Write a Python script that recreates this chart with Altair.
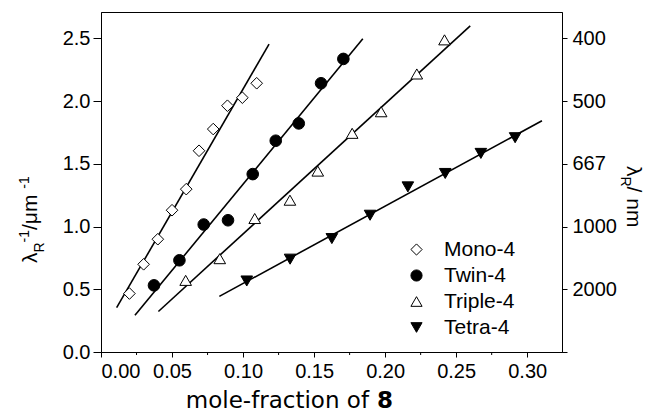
import altair as alt
import pandas as pd

# ---------------- data ----------------
series = ["Mono-4", "Twin-4", "Triple-4", "Tetra-4"]

mono_x = [0.020, 0.030, 0.040, 0.050, 0.060, 0.069, 0.079, 0.089, 0.0995, 0.1096]
mono_y = [0.466, 0.699, 0.899, 1.130, 1.298, 1.604, 1.777, 1.963, 2.027, 2.142]

twin_x = [0.0373, 0.0552, 0.0723, 0.0894, 0.1068, 0.1230, 0.1392, 0.1549, 0.1706]
twin_y = [0.531, 0.731, 1.016, 1.050, 1.418, 1.684, 1.822, 2.142, 2.336]

triple_x = [0.0596, 0.0836, 0.1082, 0.1330, 0.1526, 0.1768, 0.1972, 0.2223, 0.2418]
triple_y = [0.571, 0.744, 1.064, 1.210, 1.442, 1.743, 1.915, 2.216, 2.488]

tetra_x = [0.1026, 0.1331, 0.1625, 0.1894, 0.2160, 0.2423, 0.2674, 0.2915]
tetra_y = [0.566, 0.740, 0.904, 1.090, 1.316, 1.423, 1.583, 1.708]

# fitted lines (end points)
line_x0 = [0.0110, 0.0239, 0.0404, 0.0833]
line_y0 = [0.353, 0.292, 0.323, 0.443]
line_x1 = [0.1183, 0.1843, 0.2599, 0.3104]
line_y1 = [2.454, 2.496, 2.600, 1.843]

x_ticks = [0.00, 0.05, 0.10, 0.15, 0.20, 0.25, 0.30]
x_minor = [0.025, 0.075, 0.125, 0.175, 0.225, 0.275]
y_ticks = [0.0, 0.5, 1.0, 1.5, 2.0, 2.5]
right_ticks = [0.0, 0.5, 1.0, 1.5, 2.0, 2.5]
right_labels = ["", "2000", "1000", "667", "500", "400"]

shapes = ["diamond", "circle", "triangle-up", "triangle-down"]
fills = ["white", "black", "white", "black"]
strokes = ["black", "black", "black", "black"]

# ---------------- tables ----------------
xs = [mono_x, twin_x, triple_x, tetra_x]
ys = [mono_y, twin_y, triple_y, tetra_y]
pts = pd.DataFrame({
    "series": [s for s, xx in zip(series, xs) for _ in xx],
    "x": [v for xx in xs for v in xx],
    "y": [v for yy in ys for v in yy],
})
lines = pd.DataFrame({"series": series, "x0": line_x0, "y0": line_y0,
                      "x1": line_x1, "y1": line_y1})
minor = pd.DataFrame({"x": x_minor})
right_df = pd.DataFrame({"y": right_ticks})

W, H = 461, 340
xscale = alt.Scale(domain=[0, 0.3245], nice=False, zero=False)
yscale = alt.Scale(domain=[0, 2.71], nice=False, zero=False)

xaxis = alt.Axis(values=x_ticks, format=".2f", title=None, tickSize=5,
                 labelPadding=4, grid=False)
yaxis = alt.Axis(values=y_ticks, format=".1f", title=None, tickSize=8,
                 labelPadding=3, grid=False)

label_expr = ""
for v, lab in zip(right_ticks, right_labels):
    label_expr += f"datum.value == {v} ? '{lab}' : "
label_expr += "''"

legend = alt.Legend(orient="none", legendX=305, legendY=227, title=None,
                    symbolSize=125, labelFontSize=21, labelFont="Liberation Sans",
                    labelColor="black", labelOffset=17, rowPadding=4,
                    symbolStrokeColor="black", symbolStrokeWidth=1)

rules = alt.Chart(lines).mark_rule(color="black", strokeWidth=1.6).encode(
    x=alt.X("x0:Q", scale=xscale, axis=xaxis),
    x2="x1:Q",
    y=alt.Y("y0:Q", scale=yscale, axis=yaxis),
    y2="y1:Q",
)

points = alt.Chart(pts).mark_point(filled=False, strokeWidth=1, opacity=1,
                                   fillOpacity=1, size=135).encode(
    x=alt.X("x:Q", scale=xscale, axis=xaxis),
    y=alt.Y("y:Q", scale=yscale, axis=yaxis),
    shape=alt.Shape("series:N", scale=alt.Scale(domain=series, range=shapes),
                    legend=legend),
    fill=alt.Fill("series:N", scale=alt.Scale(domain=series, range=fills),
                  legend=legend),
    stroke=alt.Stroke("series:N", scale=alt.Scale(domain=series, range=strokes),
                      legend=legend),
)

minor_ticks = alt.Chart(minor).mark_rule(color="black", strokeWidth=1).encode(
    x=alt.X("x:Q", scale=xscale, axis=xaxis),
    y=alt.value(H),
    y2=alt.value(H + 3),
)

inner = alt.layer(rules, points, minor_ticks)

right_axis = alt.Chart(right_df).mark_point(opacity=0).encode(
    y=alt.Y("y:Q", scale=yscale,
            axis=alt.Axis(orient="right", values=right_ticks, labelExpr=label_expr,
                          title=None, tickSize=5, labelPadding=5, grid=False)),
)


def piece(text, x, y, size, angle=0, align="left", font="Liberation Sans",
          weight="normal"):
    return alt.Chart(pd.DataFrame({"t": [text]})).mark_text(
        fontSize=size, angle=angle, align=align, baseline="alphabetic",
        font=font, fontWeight=weight, color="black").encode(
        x=alt.value(x), y=alt.value(y), text="t:N")


OX, OY = 101, 12  # plot origin on the page
texts = [
    # left title: λR^-1 /μm^-1 (rotated)
    piece("λ", 37 - OX, 263 - OY, 21, angle=270),
    piece("R", 44 - OX, 252.5 - OY, 14, angle=270),
    piece("-1", 29 - OX, 242.4 - OY, 14, angle=270),
    piece(" /μm", 37 - OX, 230 - OY, 21, angle=270),
    piece("-1", 29 - OX, 188.7 - OY, 14, angle=270),
    # right title: λR / nm (rotated)
    piece("λ", 627 - OX, 166 - OY, 21, angle=90),
    piece("R", 621 - OX, 176.5 - OY, 14, angle=90),
    piece(" / nm", 627 - OX, 186.6 - OY, 21, angle=90),
    # x title
    piece("mole-fraction of", 369 - OX, 408 - OY, 23, align="right",
          font="DejaVu Sans"),
    piece("8", 377 - OX, 408 - OY, 23, font="DejaVu Sans", weight="bold"),
]

chart = alt.layer(inner, right_axis, *texts).resolve_scale(
    y="independent"
).properties(
    width=W, height=H,
    padding={"left": 93, "top": 4, "right": 657 - 16 - 93 - W,
             "bottom": 420 - 16 - 4 - H},
    autosize=alt.AutoSizeParams(type="none"),
).configure_view(
    stroke="black", strokeWidth=1
).configure_axis(
    grid=False, domainColor="black", domainWidth=1, tickColor="black",
    tickWidth=1, labelColor="black", labelFont="Liberation Sans",
    labelFontSize=20
)

chart.save("out.html", embed_options={"renderer": "svg", "actions": False})
